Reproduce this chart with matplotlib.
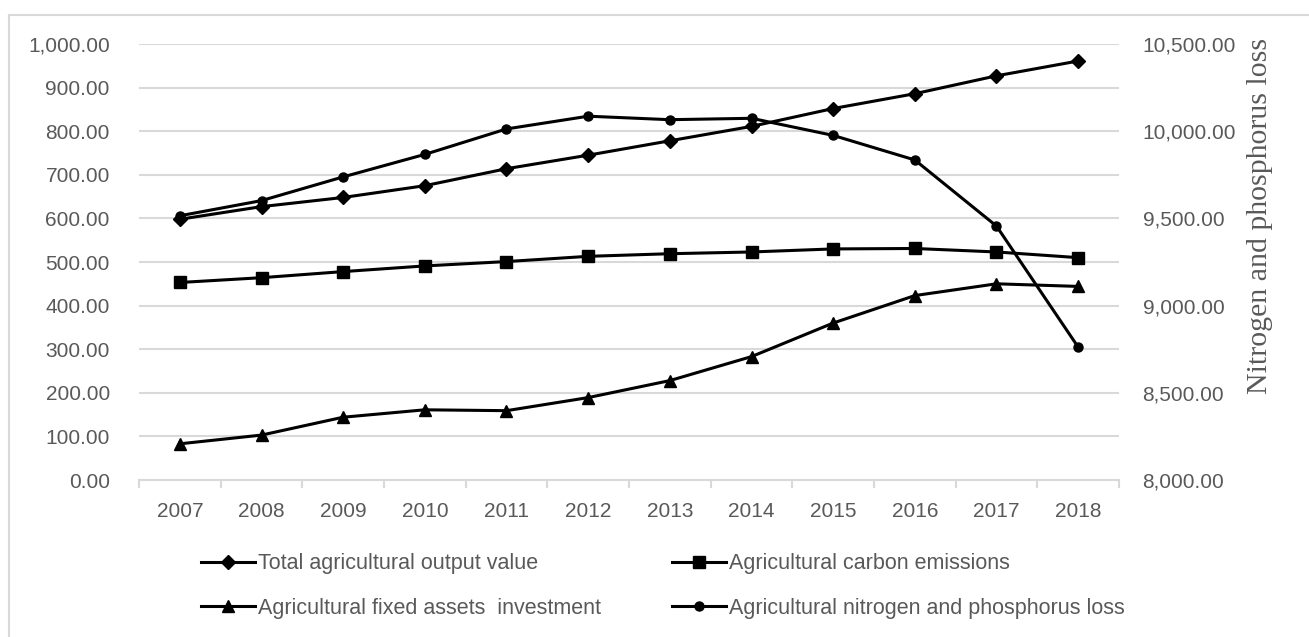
import matplotlib.pyplot as plt
from matplotlib.lines import Line2D
from matplotlib.ticker import FuncFormatter, MultipleLocator

years = ['2007', '2008', '2009', '2010', '2011', '2012',
         '2013', '2014', '2015', '2016', '2017', '2018']

output_value = [598, 627, 648, 675, 714, 745, 778, 811, 852, 886, 927, 961]
carbon = [453, 464, 478, 491, 501, 513, 519, 523, 530, 531, 523, 510]
fixed_assets = [83, 103, 144, 161, 159, 189, 228, 283, 360, 423, 450, 444]
# nitrogen and phosphorus loss goes on the right-hand axis
np_loss = [9515, 9602, 9738, 9867, 10013, 10086, 10066, 10074, 9976, 9835, 9456, 8762]

gray = '#595959'
grid = '#d9d9d9'
sans = ['Liberation Sans', 'DejaVu Sans']
x = list(range(len(years)))

fig = plt.figure(figsize=(13.09, 6.37), dpi=100)
ax = fig.add_axes([139 / 1309, 1 - 480 / 637, 980 / 1309, 436 / 637])
ax2 = ax.twinx()

lw = 2.2
ax.plot(x, output_value, color='black', lw=lw, marker='D', ms=7.5)
ax.plot(x, carbon, color='black', lw=lw, marker='s', ms=8.5)
ax.plot(x, fixed_assets, color='black', lw=lw, marker='^', ms=9)
ax2.plot(x, np_loss, color='black', lw=lw, marker='o', ms=6.5)

ax.set_xlim(-0.5, len(years) - 0.5)
ax.set_ylim(0, 1000)
ax2.set_ylim(8000, 10500)
ax.yaxis.set_major_locator(MultipleLocator(100))
ax2.yaxis.set_major_locator(MultipleLocator(500))
fmt = FuncFormatter(lambda v, p: f'{v:,.2f}')
ax.yaxis.set_major_formatter(fmt)
ax2.yaxis.set_major_formatter(fmt)

ax.grid(axis='y', color=grid, lw=1.5)
ax.set_axisbelow(True)
for a in (ax, ax2):
    for s in a.spines.values():
        s.set_visible(False)
ax.spines['bottom'].set_visible(True)
ax.spines['bottom'].set_color(grid)
ax.spines['bottom'].set_linewidth(1.5)

ax.set_xticks(x)
ax.set_xticklabels(years)
ax.set_xticks([i - 0.5 for i in range(len(years) + 1)], minor=True)
ax.tick_params(axis='x', which='major', length=0, pad=16, labelsize=15, labelcolor=gray)
ax.tick_params(axis='x', which='minor', length=6, width=1.5, color=grid)
ax.tick_params(axis='y', length=0, pad=21, labelsize=15, labelcolor=gray)
ax2.tick_params(axis='y', length=0, pad=17, labelsize=15, labelcolor=gray)
for t in ax.get_yticklabels() + ax.get_xticklabels() + ax2.get_yticklabels():
    t.set_family(sans)

fig.text(1260 / 1309, 1 - 216 / 637, 'Nitrogen and phosphorus loss', rotation=90,
         ha='center', va='center', fontsize=21.5, color=gray,
         family=['Liberation Serif', 'DejaVu Serif'])

# chart frame (top and left edges)
fig.add_artist(Line2D([8.5 / 1309, 8.5 / 1309], [0, 1 - 15 / 637], color=grid, lw=1.5))
fig.add_artist(Line2D([8.5 / 1309, 1], [1 - 15 / 637, 1 - 15 / 637], color=grid, lw=1.5))


def handle(m, ms):
    return Line2D([], [], color='black', lw=lw, marker=m, ms=ms)


leg_kw = dict(loc='center left', frameon=False, prop=dict(family=sans, size=15.5),
              labelcolor=gray, handlelength=2.5, handletextpad=0.15,
              labelspacing=1.1, borderpad=0, borderaxespad=0)
fig.legend([handle('D', 7.5), handle('^', 9)],
           ['Total agricultural output value', 'Agricultural fixed assets  investment'],
           bbox_to_anchor=(201 / 1309, 1 - 586 / 637), **leg_kw)
fig.legend([handle('s', 8.5), handle('o', 6.5)],
           ['Agricultural carbon emissions', 'Agricultural nitrogen and phosphorus loss'],
           bbox_to_anchor=(672 / 1309, 1 - 586 / 637), **leg_kw)

fig.savefig('out.png', dpi=100)
